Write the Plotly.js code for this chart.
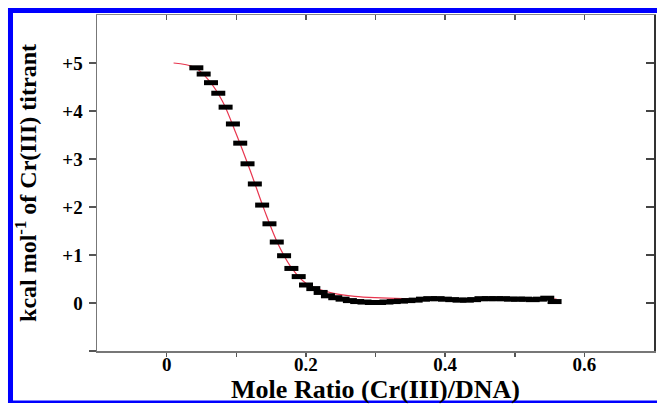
<!DOCTYPE html>
<html>
<head>
<meta charset="utf-8">
<script src="https://cdn.plot.ly/plotly-3.0.1.min.js"></script>
<style>
html,body{margin:0;padding:0;background:#fff;}
#chart{width:657px;height:405px;}
</style>
</head>
<body>
<div id="chart"></div>
<script>
// Data
const moleRatio = [0.0427,0.0532,0.0637,0.0742,0.0847,0.0952,0.1057,0.1162,0.1267,0.1372,
  0.1477,0.1582,0.1687,0.1792,0.1897,0.2002,0.2107,0.2212,0.2317,0.2422,
  0.2527,0.2632,0.2737,0.2842,0.2947,0.3052,0.3157,0.3262,0.3367,0.3472,
  0.3577,0.3682,0.3787,0.3892,0.3997,0.4102,0.4207,0.4312,0.4417,0.4522,
  0.4627,0.4732,0.4837,0.4942,0.5047,0.5152,0.5257,0.5362,0.5467,0.5572];
const heat = [4.90,4.77,4.59,4.37,4.08,3.73,3.33,2.90,2.48,2.04,
  1.65,1.27,0.985,0.72,0.55,0.375,0.30,0.22,0.15,0.11,
  0.08,0.05,0.03,0.02,0.01,0.01,0.02,0.03,0.04,0.05,
  0.06,0.08,0.09,0.09,0.08,0.07,0.06,0.06,0.07,0.09,
  0.09,0.09,0.09,0.08,0.08,0.08,0.07,0.08,0.10,0.03];
const fitX = [0.01,0.04,0.06,0.08,0.10,0.12,0.14,0.16,0.18,0.20,0.22,0.24,0.27,0.30,0.34,0.40,0.48,0.56];
const fitY = [5.0,4.91,4.65,4.21,3.52,2.76,1.95,1.23,0.72,0.41,0.28,0.20,0.14,0.11,0.09,0.08,0.08,0.08];
const xTickVals = [0,0.2,0.4,0.6];
const xTickText = ['<b>0</b>','<b>0.2</b>','<b>0.4</b>','<b>0.6</b>'];
const xMinorVals = [0.1,0.3,0.5];
const yTickVals = [0,1,2,3,4,5];
const yTickText = ['<b>0</b>','<b>+1</b>','<b>+2</b>','<b>+3</b>','<b>+4</b>','<b>+5</b>'];
const yMinorVals = [-1];
const xTopVals = [0,0.1,0.2,0.3,0.4,0.5,0.6];

const serif = '"Liberation Serif","Times New Roman",serif';
const xRange = [-0.1, 0.7];
const yRange = [-1, 6];

const traces = [
  {x: fitX, y: fitY, type: 'scatter', mode: 'lines',
   line: {color: '#e8364f', width: 1.2, shape: 'spline', smoothing: 1.0},
   hoverinfo: 'skip', showlegend: false},
  {x: moleRatio, y: heat, type: 'scatter', mode: 'markers',
   marker: {symbol: 'line-ew', size: 10, line: {color: '#000', width: 5}},
   showlegend: false},
  {x: [null], y: [null], xaxis: 'x2', yaxis: 'y2', mode: 'markers', showlegend: false, hoverinfo: 'skip'}
];

const layout = {
  width: 657, height: 405,
  margin: {l: 97, r: 3, t: 15, b: 54},
  paper_bgcolor: '#fff', plot_bgcolor: '#fff',
  showlegend: false,
  xaxis: {range: xRange, tickvals: xTickVals, ticktext: xTickText,
    ticks: 'outside', ticklen: 4, tickwidth: 1.5, tickcolor: '#555',
    ticklabelstandoff: -8,
    minor: {tickvals: xMinorVals, ticks: 'outside', ticklen: 4, tickwidth: 1.5, tickcolor: '#555', showgrid: false},
    showline: true, linecolor: '#777', linewidth: 1.5,
    showgrid: false, zeroline: false,
    tickfont: {family: serif, size: 19, color: '#000'},
    title: {text: '<b>Mole Ratio (Cr(III)/DNA)</b>', standoff: 0,
      font: {family: serif, size: 26, color: '#000'}}},
  yaxis: {range: yRange, tickvals: yTickVals, ticktext: yTickText,
    ticks: 'outside', ticklen: 7, tickwidth: 1.5, tickcolor: '#555',
    ticklabelstandoff: 2,
    minor: {tickvals: yMinorVals, ticks: 'outside', ticklen: 7, tickwidth: 1.5, tickcolor: '#555', showgrid: false},
    showline: true, linecolor: '#777', linewidth: 1.5,
    showgrid: false, zeroline: false,
    tickfont: {family: serif, size: 19, color: '#000'},
    title: {text: '<b>kcal mol<sup>-1</sup> of Cr(III) titrant</b>', standoff: 19,
      font: {family: serif, size: 24, color: '#000'}}},
  xaxis2: {overlaying: 'x', side: 'top', range: xRange, tickvals: xTopVals,
    showticklabels: false, ticks: 'inside', ticklen: 5, tickwidth: 1.5, tickcolor: '#555',
    showline: true, linecolor: '#888', linewidth: 1.5, showgrid: false, zeroline: false},
  yaxis2: {overlaying: 'y', side: 'right', range: yRange, tickvals: yTickVals,
    showticklabels: false, ticks: 'inside', ticklen: 8, tickwidth: 1.5, tickcolor: '#444',
    showline: true, linecolor: '#333', linewidth: 2.2, showgrid: false, zeroline: false},
  shapes: [
    {type: 'rect', xref: 'paper', yref: 'paper', x0: -0.1598, x1: 1.02, y0: 1.0060, y1: 1.0208,
     fillcolor: '#0000ff', line: {width: 0}, layer: 'above'},
    {type: 'rect', xref: 'paper', yref: 'paper', x0: -0.1598, x1: -0.1508, y0: -0.1548, y1: 1.0208,
     fillcolor: '#0000ff', line: {width: 0}, layer: 'above'},
    {type: 'rect', xref: 'paper', yref: 'paper', x0: -0.1598, x1: 1.02, y0: -0.1548, y1: -0.1473,
     fillcolor: '#0000ff', line: {width: 0}, layer: 'above'}
  ]
};

Plotly.newPlot('chart', traces, layout, {displayModeBar: false, staticPlot: true});
</script>
</body>
</html>
